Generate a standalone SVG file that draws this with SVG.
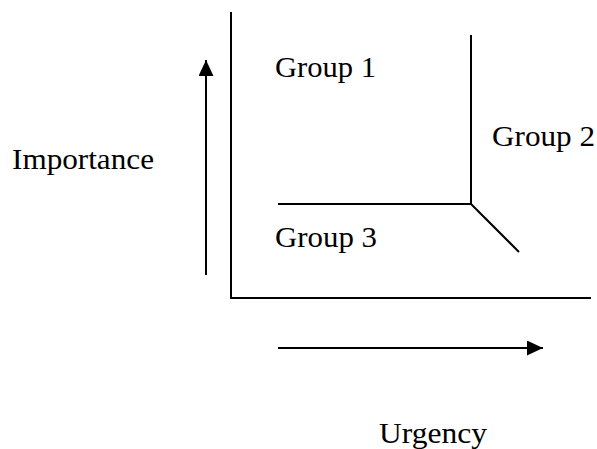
<svg xmlns="http://www.w3.org/2000/svg" width="597" height="449" viewBox="0 0 597 449">
<style>
.l{stroke:#000;stroke-width:2;fill:none}
text{font-family:"Liberation Serif","Times New Roman",serif;font-size:30px;fill:#000}
</style>
<defs>
<marker id="ah" markerWidth="16" markerHeight="15" refX="16" refY="7.5" orient="auto" markerUnits="userSpaceOnUse" viewBox="0 0 16 15">
<path d="M0,0 L16,7.5 L0,15 Z" fill="#000"/>
</marker>
</defs>
<rect width="597" height="449" fill="#fff"/>
<g id="connectors">
<line class="l" x1="231" y1="12" x2="231" y2="298"/>
<line class="l" x1="230" y1="298" x2="591" y2="298"/>
<line class="l" x1="471" y1="35" x2="471" y2="204"/>
<line class="l" x1="278" y1="204" x2="472" y2="204"/>
<line class="l" x1="471" y1="204" x2="519" y2="252"/>
<line class="l" x1="206" y1="275" x2="206" y2="60" marker-end="url(#ah)"/>
<line class="l" x1="278" y1="348" x2="543" y2="348" marker-end="url(#ah)"/>
</g>
<g id="importance"><text x="12" y="169" textLength="142" lengthAdjust="spacingAndGlyphs">Importance</text></g>
<g id="group1"><text x="275" y="77" textLength="101" lengthAdjust="spacingAndGlyphs">Group 1</text></g>
<g id="group2"><text x="492" y="146" textLength="103" lengthAdjust="spacingAndGlyphs">Group 2</text></g>
<g id="group3"><text x="275" y="247" textLength="102" lengthAdjust="spacingAndGlyphs">Group 3</text></g>
<g id="urgency"><text x="379" y="443" textLength="108" lengthAdjust="spacingAndGlyphs">Urgency</text></g>
</svg>
